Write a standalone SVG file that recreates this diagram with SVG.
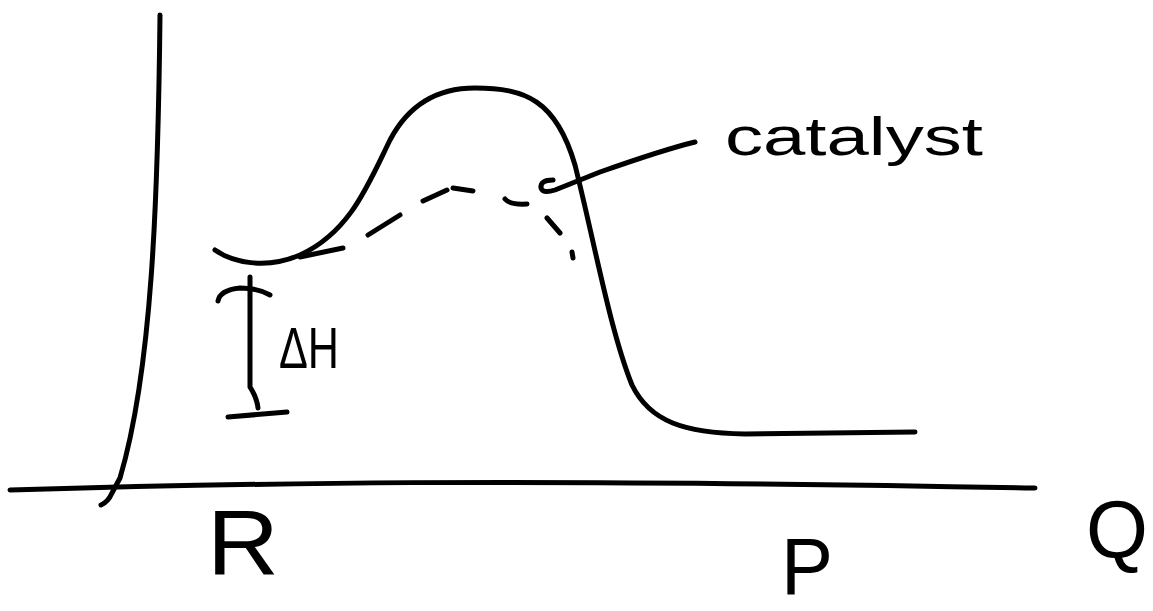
<svg xmlns="http://www.w3.org/2000/svg" width="1153" height="611" viewBox="0 0 1153 611">
<style>
.s{fill:none;stroke:#000;stroke-width:5;stroke-linecap:round;stroke-linejoin:round}
.t{font-family:"Liberation Sans",Arial,sans-serif;fill:#000}
</style>
<rect width="1153" height="611" fill="#fff"/>
<g id="axes">
<path class="s" d="M160,15 C158,200 152,370 120,478 L112,493 Q108,502 101,505"/>
<path class="s" d="M10,490 C250,483 500,478 1035,488"/>
</g>
<g id="curve">
<path class="s" d="M215,250 C232,262 265,270 300,255 C350,232 368,185 390,140 C410,102 440,88 475,88 C525,88 556,100 575,165 C595,245 610,330 632,385 C650,422 685,433 745,434 L915,432"/>
</g>
<g id="catalyst-curve">
<path class="s" d="M300,257 L343,248 M368,235 L400,215 M423,201 L447,190 M453,188 L473,191 M505,199 Q510,205 527,204 M547,218 L560,233 M572,252 L573,258"/>
</g>
<g id="connectors">
<path class="s" d="M553,180 Q540,180 541,188 Q543,194 555,190 L600,172 C640,158 670,148 695,142"/>
</g>
<g id="dH">
<path class="s" d="M218,301 Q220,290 240,288 Q258,288 270,295"/>
<path class="s" d="M250,277 L250,387 Q257,398 258,408"/>
<path class="s" d="M228,417 L287,412"/>
<text class="t" x="279" y="368" font-size="58" textLength="60" lengthAdjust="spacingAndGlyphs">ΔH</text>
</g>
<g id="labels">
<text class="t" x="725" y="155" font-size="54" textLength="258" lengthAdjust="spacingAndGlyphs">catalyst</text>
<text class="t" x="207" y="575" font-size="92" textLength="72" lengthAdjust="spacingAndGlyphs">R</text>
<text class="t" x="781" y="594" font-size="80" textLength="52" lengthAdjust="spacingAndGlyphs">P</text>
<text class="t" x="1086" y="558" font-size="82" textLength="62" lengthAdjust="spacingAndGlyphs">Q</text>
</g>
</svg>
